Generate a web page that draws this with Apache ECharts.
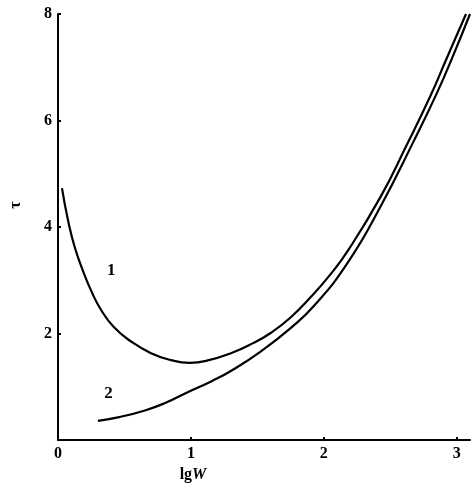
<!DOCTYPE html>
<html>
<head>
<meta charset="utf-8">
<script src="https://cdn.jsdelivr.net/npm/echarts@6/dist/echarts.min.js"></script>
<style>
  html, body { margin: 0; padding: 0; background: #fff; }
  #main { width: 473px; height: 489px; }
</style>
</head>
<body>
<div id="main"></div>
<script>
// curve 1 (upper), curve 2 (lower) : [lgW, tau]
const curve1 = [
  [0.03, 4.73], [0.075, 4.13], [0.125, 3.63], [0.19, 3.16], [0.25, 2.80],
  [0.32, 2.46], [0.42, 2.12], [0.55, 1.85], [0.70, 1.63], [0.85, 1.50],
  [0.99, 1.45], [1.12, 1.49], [1.31, 1.64], [1.46, 1.81], [1.60, 2.01],
  [1.75, 2.30], [1.90, 2.68], [2.05, 3.11], [2.18, 3.55], [2.43, 4.58],
  [2.62, 5.52], [2.80, 6.45], [2.92, 7.14], [3.07, 8.0]
]
const curve2 = [
  [0.30, 0.36], [0.46, 0.43], [0.66, 0.56], [0.81, 0.70], [0.96, 0.88],
  [1.16, 1.11], [1.31, 1.31], [1.53, 1.67], [1.75, 2.10], [1.93, 2.53],
  [2.18, 3.33], [2.43, 4.40], [2.67, 5.58], [2.85, 6.51], [2.97, 7.20],
  [3.10, 8.0]
]
const curveLabels = [
  { name: '1', coord: [0.40, 3.19] },
  { name: '2', coord: [0.38, 0.88] }
]
const xTicks = [0, 1, 2, 3]
const yTicks = [2, 4, 6, 8]

const font = 'Liberation Serif'
const myChart = echarts.init(document.getElementById('main'))

function lineSeries(data, marks) {
  return {
    type: 'line',
    data: data,
    smooth: 0.5,
    showSymbol: false,
    clip: false,
    lineStyle: { color: '#000', width: 2.2 },
    markPoint: marks ? {
      symbol: 'circle',
      symbolSize: 1,
      itemStyle: { color: 'rgba(0,0,0,0)' },
      label: {
        show: true, position: 'inside', color: '#000', fontFamily: font, fontWeight: 'bold', fontSize: 17,
        formatter: p => p.name
      },
      data: marks
    } : undefined
  }
}

// axis runs a little past 3 so the curves can reach the top edge, as in the figure
myChart.setOption({
  animation: false,
  grid: { left: 55, right: 3, top: 14, bottom: 49 },
  xAxis: {
    type: 'value',
    min: 0, max: 3.1, interval: 1,
    name: 'lg{i|W}',
    nameLocation: 'middle',
    nameGap: 10,
    nameTextStyle: {
      color: '#000', fontFamily: font, fontWeight: 'bold', fontSize: 16,
      padding: [0, 142, 0, 0],
      rich: { i: { fontFamily: font, fontStyle: 'italic', fontWeight: 'bold', fontSize: 16, color: '#000' } }
    },
    splitLine: { show: false },
    axisLine: { lineStyle: { color: '#000', width: 2 } },
    axisTick: { inside: true, length: 3, customValues: xTicks, lineStyle: { color: '#000', width: 2 } },
    axisLabel: {
      color: '#000', fontFamily: font, fontWeight: 'bold', fontSize: 16, margin: 6,
      customValues: xTicks,
      formatter: v => xTicks.includes(v) ? String(v) : ''
    }
  },
  yAxis: {
    type: 'value',
    min: 0, max: 8, interval: 2,
    name: 'τ',
    nameLocation: 'middle',
    nameGap: 34,
    nameRotate: 90,
    nameTextStyle: {
      color: '#000', fontFamily: font, fontWeight: 'bold', fontSize: 16,
      padding: [0, 0, 0, 44]
    },
    splitLine: { show: false },
    axisLine: { lineStyle: { color: '#000', width: 2 } },
    axisTick: { inside: true, length: 3, lineStyle: { color: '#000', width: 2 } },
    axisLabel: {
      color: '#000', fontFamily: font, fontWeight: 'bold', fontSize: 16, margin: 6,
      formatter: v => yTicks.includes(v) ? String(v) : ''
    }
  },
  series: [
    lineSeries(curve1, curveLabels),
    lineSeries(curve2)
  ]
})
</script>
</body>
</html>
